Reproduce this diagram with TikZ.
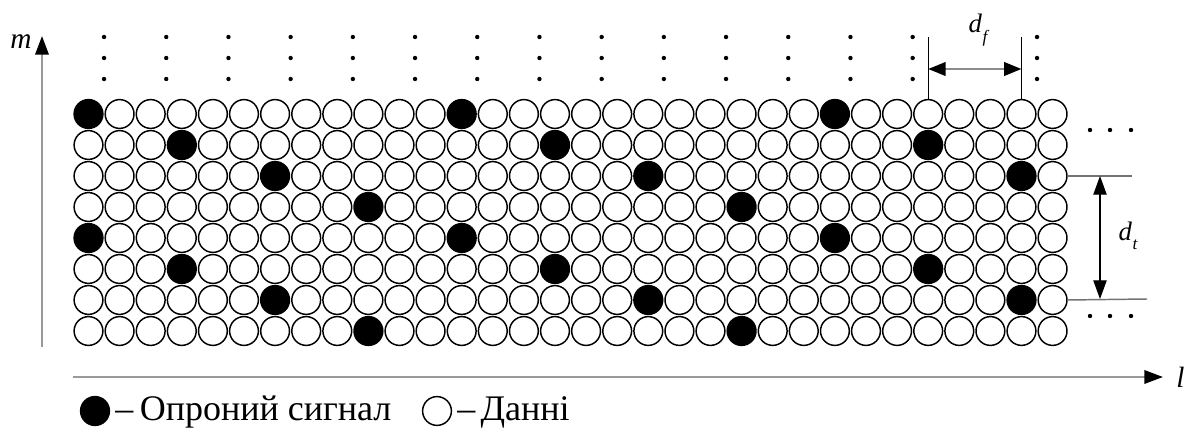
\documentclass[tikz,border=0pt]{standalone}
\usepackage{fontspec}
\setmainfont{Liberation Serif}
\usetikzlibrary{arrows.meta}
\begin{document}
\begin{tikzpicture}[x=0.75pt,y=-0.75pt,
  cell/.style={circle,draw=black,line width=1.1pt,minimum size=21.6pt,inner sep=0pt,outer sep=0pt,fill=white},
  pilot/.style={cell,fill=black},
  vdot/.style={circle,fill=black,inner sep=0pt,minimum size=3.3pt},
  axis/.style={draw=black!40,line width=1.8pt,-{Triangle[length=14pt,width=10pt,color=black]}},
  dimgray/.style={draw=black!45,line width=2pt,{Triangle[length=13pt,width=10pt,color=black]}-{Triangle[length=13pt,width=10pt,color=black]}},
  dimblack/.style={draw=black,line width=0.9pt,{Triangle[length=14pt,width=10pt]}-{Triangle[length=14pt,width=10pt]}},
  extline/.style={draw=black,line width=0.9pt},
  extgray/.style={draw=black!55,line width=1.1pt},
  lbl/.style={font=\fontsize{20}{22}\selectfont\itshape,inner sep=0pt},
  legend/.style={font=\fontsize{27}{30}\selectfont,inner sep=0pt,anchor=base west}
]
\useasboundingbox (0,0) rectangle (1186,428);

% grid of resource elements
\foreach \r in {0,...,7}{
  \foreach \c in {0,...,31}{
    \pgfmathtruncatemacro\m{mod(\c-3*mod(\r,4)+36,12)}
    \pgfmathsetmacro\xx{88.5+\c*31.1}
    \pgfmathsetmacro\yy{114+\r*31}
    \ifnum\m=0
      \node[pilot] (c-\r-\c) at (\xx,\yy) {};
    \else
      \node[cell] (c-\r-\c) at (\xx,\yy) {};
    \fi
  }
}

% vertical ellipses above
\foreach \k in {0,...,15}{
  \ifnum\k=14\else
    \pgfmathsetmacro\xx{88.5+(2*\k+0.5)*31.1}
    \node[vdot] (t-\k-a) at (\xx,37) {};
    \node[vdot] (t-\k-b) at (\xx,58) {};
    \node[vdot] (t-\k-c) at (\xx,79) {};
  \fi
}

% horizontal ellipses on the right
\foreach \i/\xx in {1/1090,2/1110,3/1131}{
  \node[vdot] (ra-\i) at (\xx,130) {};
  \node[vdot] (rb-\i) at (\xx,316) {};
}

% d_f dimension
\coordinate (dfLt) at (c-0-27 |- 0,37);
\coordinate (dfRt) at (c-0-30 |- 0,37);
\draw[extline] (dfLt) -- (c-0-27.north);
\draw[extline] (dfRt) -- (c-0-30.north);
\coordinate (dfA) at (c-0-27 |- 0,69);
\coordinate (dfB) at (c-0-30 |- 0,69);
\draw[dimgray] (dfA) -- (dfB);
\node[lbl] (dflabel) at (978,30) {d\kern0.5pt\raisebox{-0.35em}{\fontsize{13}{14}\selectfont f}};

% d_t dimension
\coordinate (dtTe) at (1132,176);
\coordinate (dtBe) at (1147,299);
\draw[extgray] (c-2-31.east) -- (dtTe);
\draw[extgray] (c-6-31.east) -- (dtBe);
\coordinate (dtT) at (1100,176);
\coordinate (dtB) at (1100,299);
\draw[dimblack] (dtT) -- (dtB);
\node[lbl] (dtlabel) at (1128,236) {d\kern0.5pt\raisebox{-0.35em}{\fontsize{13}{14}\selectfont t}};

% axes
\coordinate (yA) at (42,347);
\coordinate (yB) at (42,36);
\draw[axis] (yA) -- (yB);
\node[lbl,font=\fontsize{22}{24}\selectfont\itshape] (mlabel) at (21,42) {m};
\coordinate (xA) at (73,377);
\coordinate (xB) at (1163,377);
\draw[axis] (xA) -- (xB);
\node[lbl,font=\fontsize{22}{24}\selectfont\itshape,anchor=west] (llabel) at (1176,377) {l};

% legend
\node[pilot] (legP) at (95,411) {};
\node[legend] (legPt) at (115,420) {–\hspace{5pt}Опроний сигнал};
\node[cell] (legD) at (437,411) {};
\node[legend] (legDt) at (457,420) {–\hspace{4pt}Данні};
\end{tikzpicture}
\end{document}
